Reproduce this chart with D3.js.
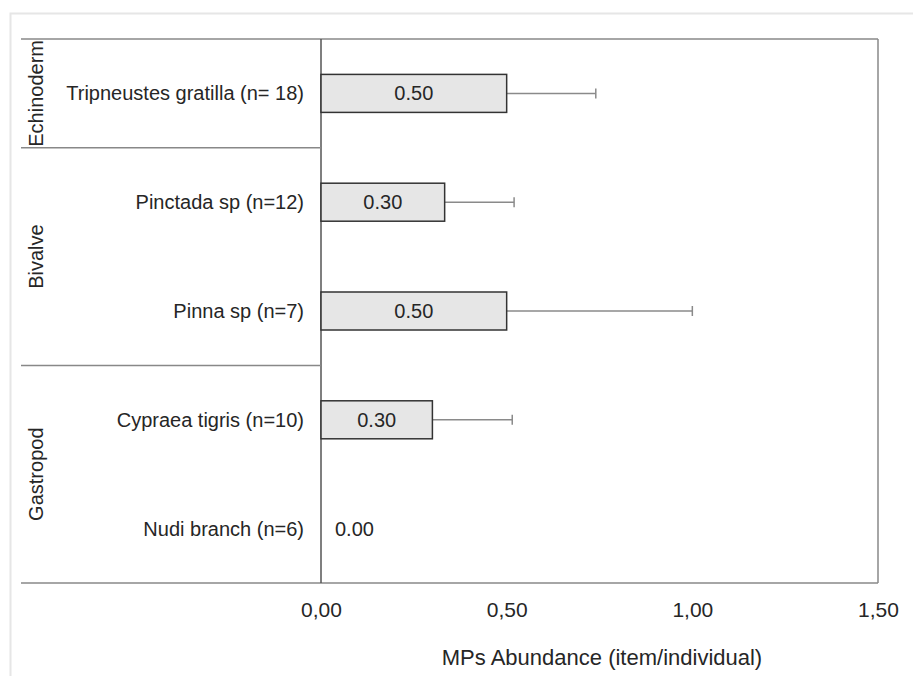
<!doctype html>
<html lang="en">
<head>
<meta charset="UTF-8">
<title>MPs Abundance</title>
<style>
    body { margin: 0; background: #fff; }
    svg text { font-family: "Liberation Sans", Arial, sans-serif; fill: #262626; }
</style>
</head>
<body>
<svg id="chart" width="913" height="676"></svg>
<script src="https://d3js.org/d3.v7.min.js"></script>
<script>
// data
const species = ["Tripneustes gratilla (n= 18)", "Pinctada sp (n=12)", "Pinna sp (n=7)", "Cypraea tigris (n=10)", "Nudi branch (n=6)"];
const groups = ["Echinoderm", "Bivalve", "Bivalve", "Gastropod", "Gastropod"];
const means = [0.50, 0.333, 0.50, 0.30, 0.0];
const meanLabels = ["0.50", "0.30", "0.50", "0.30", "0.00"];
const errUpper = [0.74, 0.52, 1.0, 0.515, 0.0];
const xTicks = [0, 0.5, 1.0, 1.5];

const svg = d3.select("#chart");

// outer light frame
svg.append("path")
    .attr("d", "M10.5,676 V13.5 H913")
    .attr("fill", "none").attr("stroke", "#e6e6e6").attr("stroke-width", 2);

const plotLeft = 321, plotRight = 878, plotTop = 39, plotBottom = 583, outerLeft = 21;

const x = d3.scaleLinear().domain([0, 1.5]).range([plotLeft, plotRight]);
const y = d3.scaleBand().domain(species).range([plotTop, plotBottom]);

// frame lines
const g = svg.append("g").attr("stroke", "#888").attr("fill", "none").attr("stroke-width", 1.5);
g.append("line").attr("x1", outerLeft).attr("x2", plotRight).attr("y1", plotTop).attr("y2", plotTop);
g.append("line").attr("x1", outerLeft).attr("x2", plotRight).attr("y1", plotBottom).attr("y2", plotBottom);
g.append("line").attr("x1", plotRight).attr("x2", plotRight).attr("y1", plotTop).attr("y2", plotBottom);
g.append("line").attr("x1", plotLeft).attr("x2", plotLeft).attr("y1", plotTop).attr("y2", plotBottom).attr("stroke", "#555");

// group spans
const groupNames = Array.from(new Set(groups));
const spans = groupNames.map(n => {
    const idx = species.filter((s, i) => groups[i] === n);
    return { name: n, y0: y(idx[0]), y1: y(idx[idx.length - 1]) + y.bandwidth() };
});
spans.slice(0, -1).forEach(s => {
    g.append("line").attr("x1", outerLeft).attr("x2", plotLeft).attr("y1", s.y1).attr("y2", s.y1);
});
svg.selectAll(".grp").data(spans).enter().append("text")
    .attr("class", "grp")
    .attr("transform", d => `translate(43,${(d.y0 + d.y1) / 2}) rotate(-90)`)
    .attr("text-anchor", "middle")
    .attr("font-size", 20)
    .text(d => d.name);

// species labels
svg.selectAll(".sp").data(species).enter().append("text")
    .attr("x", plotLeft - 17)
    .attr("y", d => y(d) + y.bandwidth() / 2)
    .attr("dy", "0.35em")
    .attr("text-anchor", "end")
    .attr("font-size", 20)
    .text(d => d);

const barH = 38;

// error bars
const eb = svg.append("g").attr("stroke", "#8a8a8a").attr("stroke-width", 1.5);
species.forEach((s, i) => {
    if (errUpper[i] <= means[i]) return;
    const cy = y(s) + y.bandwidth() / 2;
    eb.append("line").attr("x1", x(means[i])).attr("x2", x(errUpper[i])).attr("y1", cy).attr("y2", cy);
    eb.append("line").attr("x1", x(errUpper[i])).attr("x2", x(errUpper[i])).attr("y1", cy - 5).attr("y2", cy + 5);
});

// bars (a zero value leaves only a faint stub)
svg.selectAll(".bar").data(species).enter().append("rect")
    .attr("x", x(0))
    .attr("y", (d, i) => y(d) + y.bandwidth() / 2 - (means[i] > 0 ? barH / 2 : 4))
    .attr("width", (d, i) => x(means[i]) - x(0))
    .attr("height", (d, i) => means[i] > 0 ? barH : 8)
    .attr("fill", "#e6e6e6")
    .attr("stroke", (d, i) => means[i] > 0 ? "#333" : "#ccc")
    .attr("stroke-width", 1.5);

// value labels
svg.selectAll(".val").data(species).enter().append("text")
    .attr("x", (d, i) => means[i] > 0 ? (x(0) + x(means[i])) / 2 : x(0) + 14)
    .attr("y", d => y(d) + y.bandwidth() / 2)
    .attr("dy", "0.35em")
    .attr("text-anchor", (d, i) => means[i] > 0 ? "middle" : "start")
    .attr("font-size", 20)
    .text((d, i) => meanLabels[i]);

// x axis tick labels
const fmt = v => d3.format(".2f")(v).replace(".", ",");
const xAxis = svg.append("g")
    .attr("transform", `translate(0,${plotBottom})`)
    .call(d3.axisBottom(x).tickValues(xTicks).tickSize(0).tickPadding(19).tickFormat(fmt));
xAxis.select(".domain").remove();
xAxis.selectAll("text")
    .attr("font-family", "Liberation Sans, Arial, sans-serif")
    .attr("font-size", 21)
    .attr("fill", "#262626");

svg.append("text")
    .attr("x", 602)
    .attr("y", 665)
    .attr("text-anchor", "middle")
    .attr("font-size", 22)
    .text("MPs Abundance (item/individual)");
</script>
</body>
</html>
